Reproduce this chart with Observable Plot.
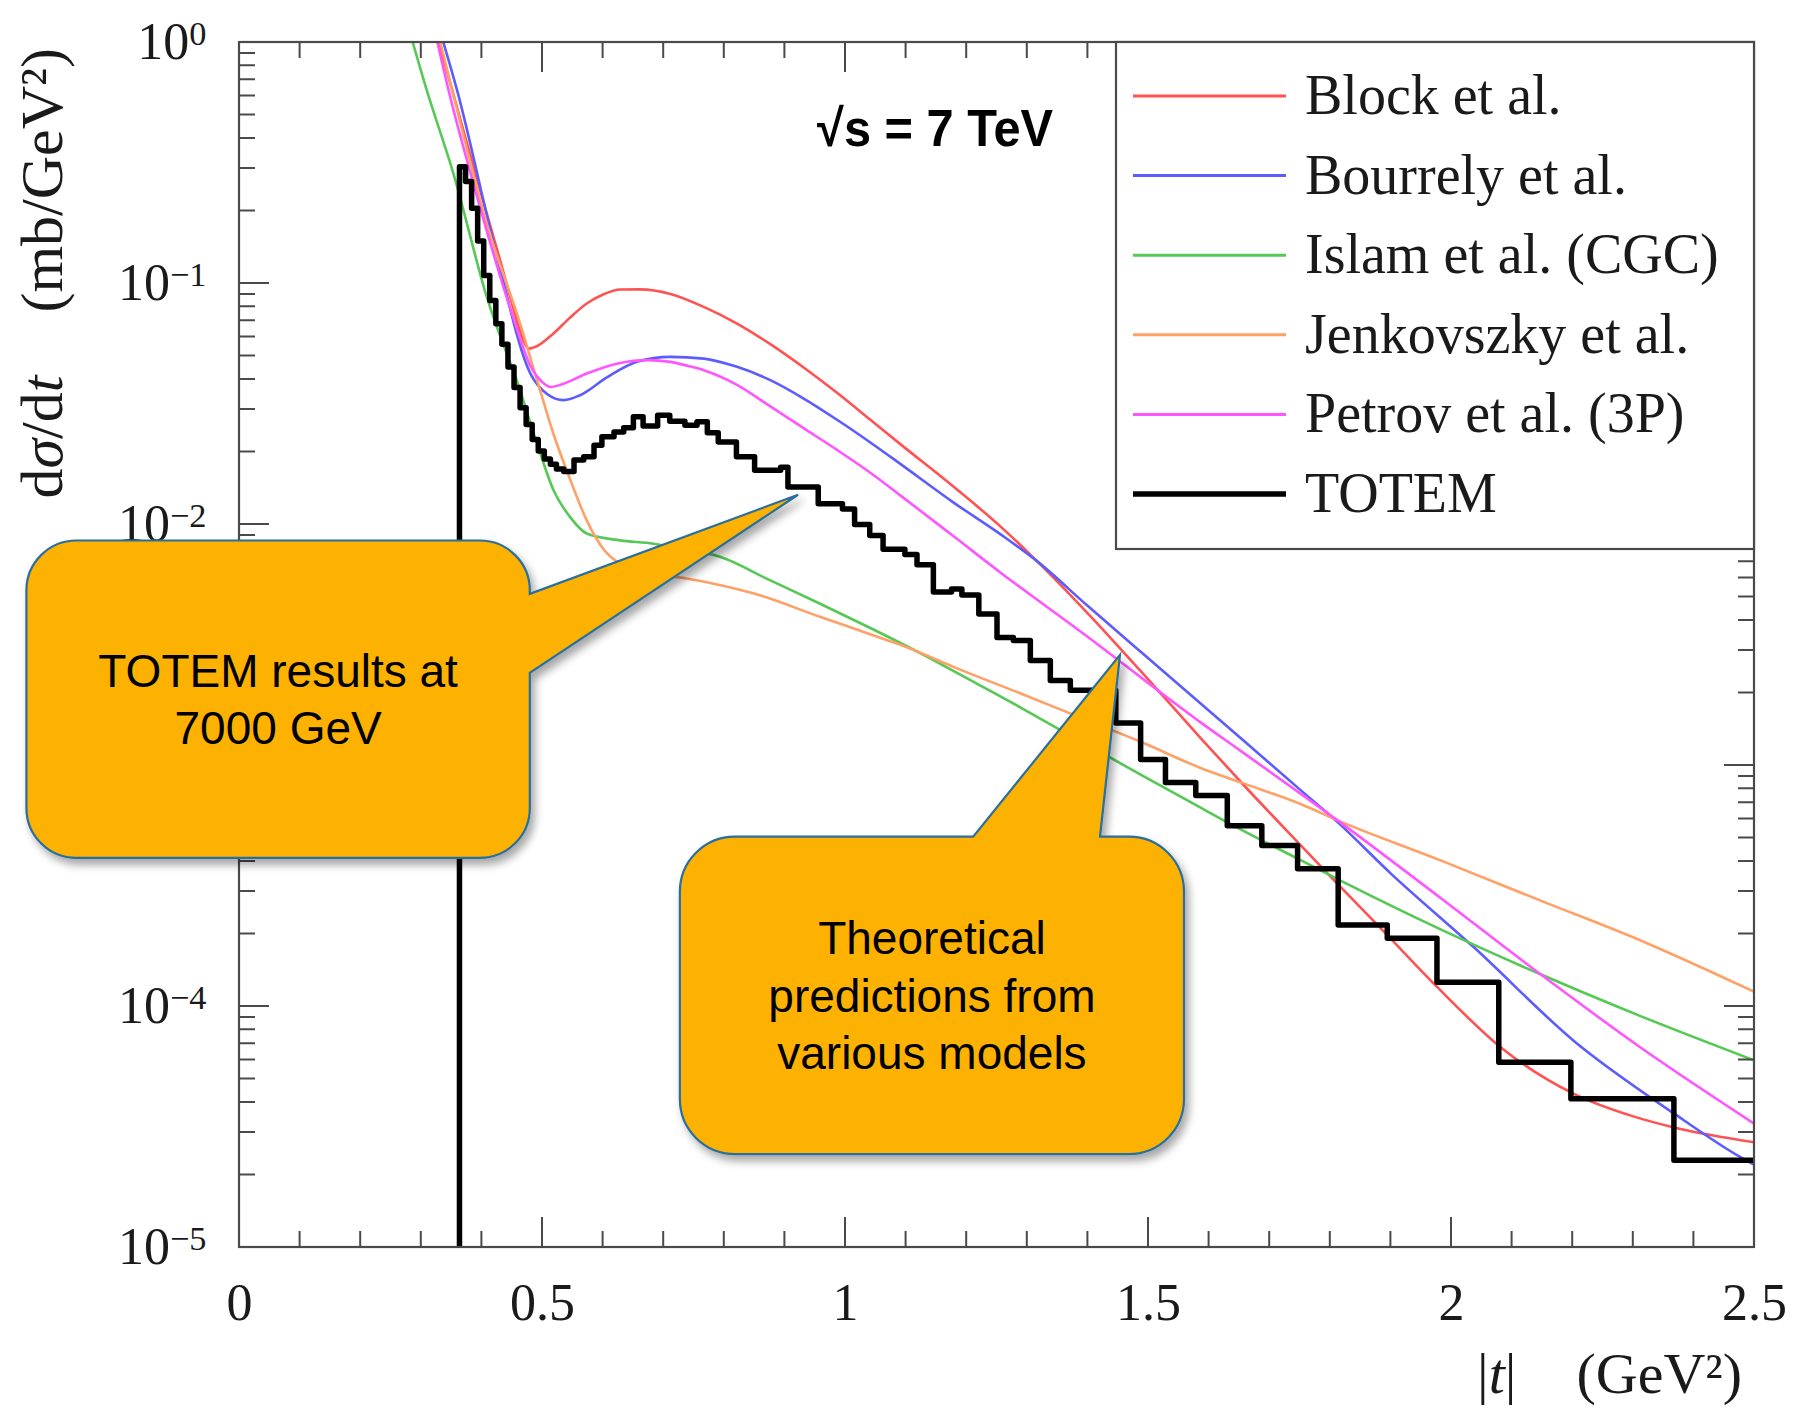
<!DOCTYPE html>
<html>
<head>
<meta charset="utf-8">
<script src="https://cdn.jsdelivr.net/npm/d3@7"></script>
<script src="https://cdn.jsdelivr.net/npm/@observablehq/plot@0.6"></script>
<style>
html, body { margin: 0; padding: 0; background: #ffffff; }
#chart svg { display: block; }
</style>
</head>
<body>
<div id="chart"></div>
<script>
// ---------------- data ----------------
const seriesNames = ["Block et al.", "Bourrely et al.", "Islam et al. (CGC)", "Jenkovszky et al.", "Petrov et al. (3P)", "TOTEM"];
const seriesColors = ["#ff5252", "#5c5cff", "#55c855", "#ffa066", "#ff55ff", "#000000"];

const blockT = [0.318, 0.351, 0.397, 0.430, 0.450, 0.465, 0.478, 0.490, 0.518, 0.545, 0.573, 0.600, 0.628, 0.661, 0.711, 0.766, 0.821, 0.876, 0.931, 0.986, 1.041, 1.091, 1.179, 1.256, 1.305, 1.399, 1.509, 1.586, 1.657, 1.750, 1.800, 1.889, 1.977, 2.081, 2.202, 2.300, 2.367, 2.430, 2.500];
const blockV = [1.25, 0.634, 0.244, 0.125, 0.082, 0.061, 0.0537, 0.0548, 0.062, 0.072, 0.0826, 0.090, 0.0944, 0.0945, 0.0905, 0.080, 0.0682, 0.0560, 0.0448, 0.0352, 0.0272, 0.0215, 0.0143, 0.0098, 0.0075, 0.0043, 0.00214, 0.0013, 0.00083, 0.00047, 0.000347, 0.000204, 0.00012, 6.78e-5, 4.34e-5, 3.5e-5, 3.15e-5, 2.92e-5, 2.73e-5];

const bourrelyT = [0.325, 0.359, 0.425, 0.480, 0.507, 0.535, 0.562, 0.607, 0.656, 0.711, 0.766, 0.821, 0.876, 0.931, 0.986, 1.041, 1.091, 1.179, 1.256, 1.315, 1.399, 1.490, 1.586, 1.652, 1.750, 1.812, 1.900, 2.037, 2.202, 2.367, 2.477, 2.500];
const bourrelyV = [1.25, 0.634, 0.129, 0.0423, 0.0349, 0.0328, 0.0344, 0.0409, 0.0473, 0.0496, 0.0488, 0.0451, 0.0397, 0.0333, 0.0272, 0.0219, 0.0178, 0.0123, 0.0091, 0.00708, 0.00461, 0.00292, 0.00181, 0.0013, 0.000794, 0.000582, 0.000356, 0.000176, 7.2e-5, 3.6e-5, 2.37e-5, 2.2e-5];

const islamT = [0.275, 0.309, 0.353, 0.408, 0.463, 0.491, 0.518, 0.546, 0.573, 0.628, 0.683, 0.711, 0.794, 0.876, 0.959, 1.041, 1.124, 1.206, 1.289, 1.371, 1.440, 1.490, 1.586, 1.652, 1.751, 1.817, 1.982, 2.147, 2.312, 2.500];
const islamV = [1.25, 0.634, 0.286, 0.088, 0.036, 0.0217, 0.0139, 0.0107, 0.00917, 0.00859, 0.00832, 0.00807, 0.00733, 0.00586, 0.00468, 0.00372, 0.00292, 0.00226, 0.00174, 0.00133, 0.001067, 0.000908, 0.000668, 0.000543, 0.000405, 0.000333, 0.000209, 0.000136, 9.12e-5, 5.97e-5];

const jenkovszkyT = [0.322, 0.351, 0.408, 0.463, 0.491, 0.518, 0.546, 0.573, 0.601, 0.628, 0.683, 0.738, 0.794, 0.849, 0.959, 1.069, 1.096, 1.179, 1.289, 1.399, 1.490, 1.586, 1.652, 1.751, 1.812, 1.982, 2.147, 2.312, 2.500];
const jenkovszkyV = [1.25, 0.634, 0.177, 0.0682, 0.0397, 0.0238, 0.0153, 0.0104, 0.00788, 0.00689, 0.00625, 0.00597, 0.0056, 0.00517, 0.00413, 0.00331, 0.00313, 0.00256, 0.00199, 0.00154, 0.001245, 0.000977, 0.000851, 0.000692, 0.000592, 0.000404, 0.000275, 0.000188, 0.000115];

const petrovT = [0.318, 0.345, 0.389, 0.455, 0.480, 0.500, 0.513, 0.530, 0.573, 0.628, 0.672, 0.711, 0.740, 0.766, 0.821, 0.876, 0.931, 0.986, 1.041, 1.091, 1.179, 1.256, 1.399, 1.509, 1.586, 1.652, 1.812, 1.982, 2.147, 2.312, 2.500];
const petrovV = [1.25, 0.634, 0.244, 0.0682, 0.0455, 0.0389, 0.0372, 0.0380, 0.0423, 0.0468, 0.0481, 0.0473, 0.0455, 0.0437, 0.0380, 0.0309, 0.0251, 0.0204, 0.0164, 0.01318, 0.00891, 0.00631, 0.00343, 0.00211, 0.00151, 0.00115, 0.000592, 0.000282, 0.000136, 6.76e-5, 3.26e-5];

// TOTEM histogram: lower bin edges and bin contents
const totemEdges = [0.363, 0.373, 0.383, 0.393, 0.403, 0.413, 0.423, 0.433, 0.443, 0.453, 0.463, 0.473, 0.483, 0.493, 0.503, 0.513, 0.523, 0.535, 0.552, 0.568, 0.585, 0.598, 0.618, 0.634, 0.650, 0.666, 0.690, 0.710, 0.735, 0.755, 0.772, 0.790, 0.820, 0.850, 0.893, 0.905, 0.955, 0.995, 1.015, 1.040, 1.062, 1.098, 1.118, 1.145, 1.175, 1.192, 1.220, 1.250, 1.277, 1.305, 1.338, 1.371, 1.446, 1.487, 1.528, 1.578, 1.630, 1.687, 1.746, 1.813, 1.894, 1.976, 2.078, 2.197, 2.367];
const totemValues = [0.305, 0.265, 0.205, 0.150, 0.108, 0.085, 0.068, 0.056, 0.045, 0.037, 0.0305, 0.026, 0.0225, 0.0202, 0.0187, 0.0178, 0.0170, 0.0166, 0.0185, 0.0191, 0.0213, 0.0231, 0.0242, 0.0252, 0.0280, 0.0256, 0.0284, 0.0268, 0.0258, 0.0267, 0.0240, 0.0220, 0.0191, 0.0168, 0.0173, 0.0143, 0.0122, 0.0116, 0.0100, 0.0090, 0.0079, 0.0075, 0.0068, 0.00525, 0.0054, 0.0051, 0.00425, 0.0034, 0.0033, 0.00273, 0.00225, 0.00205, 0.0015, 0.00106, 0.00085, 0.00075, 0.000562, 0.000466, 0.000373, 0.000218, 0.000192, 0.000126, 5.87e-5, 4.14e-5, 2.30e-5];

// axes
const xDomain = [0, 2.5];
const yDomain = [1e-5, 1];
const xTicks = [0, 0.5, 1, 1.5, 2, 2.5];
const xTickLabels = ["0", "0.5", "1", "1.5", "2", "2.5"];
// decade labels; the 10^-3 label is hidden behind the first callout in the reference
const yTicks = [1, 0.1, 0.01, 0.0001, 0.00001];
const yTickExponents = ["0", "\u22121", "\u22122", "\u22124", "\u22125"];

// annotations (anchored in data units)
const energyLabel = {text: "\u221As = 7 TeV", t: 0.954, v: 0.3707};
const callouts = [
  {lines: ["TOTEM results at", "7000 GeV"], t1: -0.3508, t2: 0.4799, v1: 0.008542, v2: 0.0004115,
   side: "right", baseA: 0.005132, baseB: 0.002412, tipT: 0.9226, tipV: 0.01322, r: 50},
  {lines: ["Theoretical", "predictions from", "various models"], t1: 0.7275, t2: 1.5594, v1: 0.0005044, v2: 0.0000243,
   side: "top", baseA: 1.2116, baseB: 1.4208, tipT: 1.4538, tipV: 0.002864, r: 55}
];

// ---------------- chart ----------------
const W = 1795, H = 1408;
const M = {top: 42, right: 41, bottom: 161, left: 239};

const pts = (ts, vs) => ts.map((t, i) => ({t, v: vs[i]}));
const curveData = [pts(blockT, blockV), pts(bourrelyT, bourrelyV), pts(islamT, islamV), pts(jenkovszkyT, jenkovszkyV), pts(petrovT, petrovV)];
const totemPts = [{t: totemEdges[0], v: yDomain[0]}]
  .concat(totemEdges.map((t, i) => ({t, v: totemValues[i]})))
  .concat([{t: xDomain[1], v: totemValues[totemValues.length - 1]}]);

let scalesRef = null;
const grab = (index, scales) => { scalesRef = scales; return d3.create("svg:g").node(); };

const lineMarks = curveData.map((d, i) => Plot.line(d, {x: "t", y: "v", stroke: seriesColors[i], strokeWidth: 2.6, curve: "monotone-x", clip: true}));

const plot = Plot.plot({
  width: W, height: H,
  marginTop: M.top, marginRight: M.right, marginBottom: M.bottom, marginLeft: M.left,
  style: {fontFamily: "'Liberation Serif', 'DejaVu Serif', serif", fontSize: "52px", color: "#1a1a1a", background: "#ffffff", overflow: "visible"},
  x: {domain: xDomain, ticks: xTicks, tickSize: 0, tickPadding: 36, label: null,
      tickFormat: d => xTickLabels[xTicks.indexOf(d)]},
  y: {type: "log", domain: yDomain, ticks: yTicks, tickSize: 0, tickPadding: 33, label: null,
      tickFormat: d => "10^" + yTickExponents[yTicks.indexOf(d)]},
  marks: [
    ...lineMarks,
    Plot.line(totemPts, {x: "t", y: "v", stroke: seriesColors[5], strokeWidth: 5.5, curve: "step-after", clip: true}),
    grab
  ]
});
document.getElementById("chart").appendChild(plot);

// superscript exponents on the y tick labels
d3.select(plot).selectAll("text").each(function () {
  const m = /^10\^(.+)$/.exec(this.textContent);
  if (!m) return;
  const el = d3.select(this);
  el.text(null);
  el.append("tspan").text("10");
  el.append("tspan").attr("dy", "-0.42em").attr("font-size", "0.66em").text(m[1]);
});

// ---------------- overlay: frame, ticks, legend, titles, callouts ----------------
const sx = scalesRef && typeof scalesRef.x === "function" ? scalesRef.x : d3.scaleLinear(xDomain, [M.left, W - M.right]);
const sy = scalesRef && typeof scalesRef.y === "function" ? scalesRef.y : d3.scaleLog(yDomain, [H - M.bottom, M.top]);
const L = sx(xDomain[0]), R = sx(xDomain[1]), T = sy(yDomain[1]), B = sy(yDomain[0]);

const svg = d3.select(plot);
const defs = svg.append("defs");
defs.append("filter").attr("id", "calloutShadow")
  .attr("x", "-10%").attr("y", "-10%").attr("width", "130%").attr("height", "130%")
  .append("feDropShadow").attr("dx", 4).attr("dy", 6).attr("stdDeviation", 4)
  .attr("flood-color", "#000").attr("flood-opacity", 0.35);

const ov = svg.append("g").attr("text-anchor", "start");
const axisColor = "#4a4a4a";

// ticks (major every 0.5 / decade, minor every 0.1 / 2..9 x decade)
const tp = d3.path();
const majorLen = 30, minorLen = 16;
for (let i = 0; i <= 25; i++) {
  const X = sx(i / 10);
  const len = i % 5 === 0 ? majorLen : minorLen;
  tp.moveTo(X, B); tp.lineTo(X, B - len);
  tp.moveTo(X, T); tp.lineTo(X, T + len);
}
for (let k = -5; k <= 0; k++) {
  const Y = sy(Math.pow(10, k));
  tp.moveTo(L, Y); tp.lineTo(L + majorLen, Y);
  tp.moveTo(R, Y); tp.lineTo(R - majorLen, Y);
  if (k < 0) {
    for (let m = 2; m <= 9; m++) {
      const Ym = sy(m * Math.pow(10, k));
      tp.moveTo(L, Ym); tp.lineTo(L + minorLen, Ym);
      tp.moveTo(R, Ym); tp.lineTo(R - minorLen, Ym);
    }
  }
}
ov.append("path").attr("d", tp.toString()).attr("stroke", axisColor).attr("stroke-width", 2).attr("fill", "none");
ov.append("rect").attr("x", L).attr("y", T).attr("width", R - L).attr("height", B - T)
  .attr("fill", "none").attr("stroke", axisColor).attr("stroke-width", 2.2);

// legend
const lgW = 638, lgH = 507;
const lgX = R - lgW, lgY = T;
ov.append("rect").attr("x", lgX).attr("y", lgY).attr("width", lgW).attr("height", lgH)
  .attr("fill", "#ffffff").attr("stroke", axisColor).attr("stroke-width", 2.2);
seriesNames.forEach((name, i) => {
  const yy = lgY + 54 + i * 79.6;
  ov.append("line").attr("x1", lgX + 17).attr("x2", lgX + 170).attr("y1", yy).attr("y2", yy)
    .attr("stroke", seriesColors[i]).attr("stroke-width", i === 5 ? 5.5 : 3);
  ov.append("text").attr("x", lgX + 189).attr("y", yy + 18).attr("font-size", 56)
    .attr("text-anchor", "start").attr("fill", "#1a1a1a").text(name);
});

// energy label
ov.append("text").attr("x", sx(energyLabel.t)).attr("y", sy(energyLabel.v))
  .attr("text-anchor", "start")
  .attr("font-family", "'Liberation Sans', Arial, sans-serif").attr("font-weight", "bold")
  .attr("font-size", 52).attr("textLength", 236).attr("lengthAdjust", "spacingAndGlyphs")
  .attr("fill", "#000").text(energyLabel.text);

// axis titles
const xt = ov.append("text").attr("x", R - 12).attr("y", B + 146).attr("text-anchor", "end")
  .attr("font-size", 58).attr("fill", "#1a1a1a");
xt.append("tspan").text("|");
xt.append("tspan").attr("font-style", "italic").text("t");
xt.append("tspan").text("|");
xt.append("tspan").attr("dx", 60).text("(GeV\u00B2)");

const yt = ov.append("text").attr("transform", `translate(${L - 177},${T + 6}) rotate(-90)`)
  .attr("text-anchor", "end").attr("font-size", 60).attr("fill", "#1a1a1a");
yt.append("tspan").text("d");
yt.append("tspan").attr("font-style", "italic").text("\u03C3");
yt.append("tspan").text("/d");
yt.append("tspan").attr("font-style", "italic").text("t");
yt.append("tspan").attr("dx", 63).text("(mb/GeV\u00B2)");

// callouts
function calloutPath(c) {
  const x1 = sx(c.t1), x2 = sx(c.t2), y1 = sy(c.v1), y2 = sy(c.v2), r = c.r;
  const tx = sx(c.tipT), ty = sy(c.tipV);
  const p = d3.path();
  p.moveTo(x1 + r, y1);
  if (c.side === "top") { p.lineTo(sx(c.baseA), y1); p.lineTo(tx, ty); p.lineTo(sx(c.baseB), y1); }
  p.lineTo(x2 - r, y1);
  p.arcTo(x2, y1, x2, y1 + r, r);
  if (c.side === "right") { p.lineTo(x2, sy(c.baseA)); p.lineTo(tx, ty); p.lineTo(x2, sy(c.baseB)); }
  p.lineTo(x2, y2 - r);
  p.arcTo(x2, y2, x2 - r, y2, r);
  p.lineTo(x1 + r, y2);
  p.arcTo(x1, y2, x1, y2 - r, r);
  p.lineTo(x1, y1 + r);
  p.arcTo(x1, y1, x1 + r, y1, r);
  p.closePath();
  return p.toString();
}
const calloutFont = 46, calloutLH = 57.5, capH = 0.716 * calloutFont;
callouts.forEach(c => {
  ov.append("path").attr("d", calloutPath(c)).attr("fill", "#FDB100")
    .attr("stroke", "#2C6E9B").attr("stroke-width", 2.2).attr("stroke-linejoin", "miter")
    .attr("filter", "url(#calloutShadow)");
  const cx = (sx(c.t1) + sx(c.t2)) / 2;
  const cy = (sy(c.v1) + sy(c.v2)) / 2;
  const b1 = cy + capH / 2 - (c.lines.length - 1) * calloutLH / 2;
  c.lines.forEach((line, i) => {
    ov.append("text").attr("x", cx).attr("y", b1 + i * calloutLH).attr("text-anchor", "middle")
      .attr("font-family", "'Liberation Sans', Arial, sans-serif").attr("font-size", calloutFont)
      .attr("fill", "#000").text(line);
  });
});
</script>
</body>
</html>
